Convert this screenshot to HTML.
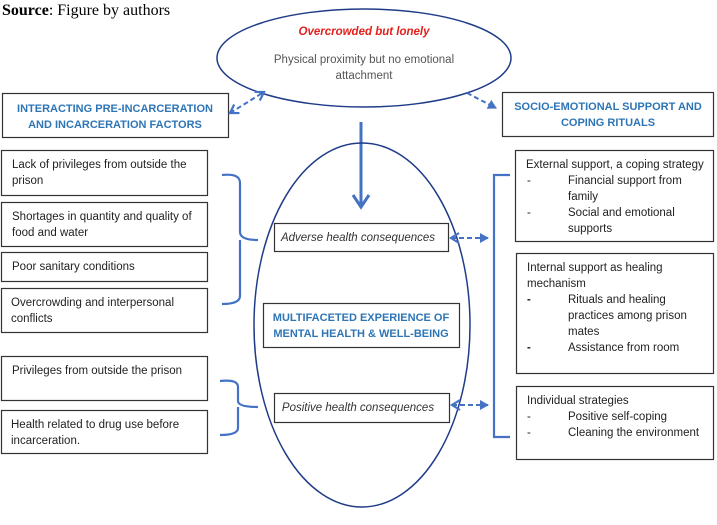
<!DOCTYPE html>
<html><head><meta charset="utf-8"><style>
html,body{margin:0;padding:0;background:#fff;}
svg{display:block;font-family:"Liberation Sans",Calibri,sans-serif;}
</style></head><body>
<svg width="717" height="525" viewBox="0 0 717 525" xmlns="http://www.w3.org/2000/svg">
<defs>
<marker id="ah" markerWidth="10" markerHeight="10" refX="8" refY="5" orient="auto" markerUnits="userSpaceOnUse"><path d="M0,0 L9,5 L0,10 z" fill="#4472C4"/></marker>
<marker id="ao" markerWidth="12" markerHeight="12" refX="9" refY="6" orient="auto" markerUnits="userSpaceOnUse"><path d="M1,1 L9,6 L1,11" fill="none" stroke="#4472C4" stroke-width="2.2"/></marker>
<marker id="aos" markerWidth="12" markerHeight="12" refX="3" refY="6" orient="auto" markerUnits="userSpaceOnUse"><path d="M11,1 L3,6 L11,11" fill="none" stroke="#4472C4" stroke-width="2.2"/></marker>
</defs>
<text x="2" y="15" font-family="Liberation Serif,serif" font-size="16"><tspan font-weight="bold">Source</tspan>: Figure by authors</text>

<ellipse cx="364" cy="58" rx="147" ry="49" fill="none" stroke="#1F3C88" stroke-width="1.5"/>
<text x="364" y="35" text-anchor="middle" font-size="11.5" font-style="italic" font-weight="bold" fill="#E0201B">Overcrowded but lonely</text>
<text x="364" y="63" text-anchor="middle" font-size="11.5" fill="#555">Physical proximity but no emotional</text>
<text x="364" y="79" text-anchor="middle" font-size="11.5" fill="#555">attachment</text>

<rect x="2.5" y="93.5" width="226" height="44" fill="none" stroke="#333" stroke-width="1.2"/>
<text x="115" y="112" text-anchor="middle" font-size="11" font-weight="bold" fill="#2E75B6">INTERACTING PRE-INCARCERATION</text>
<text x="115" y="128" text-anchor="middle" font-size="11" font-weight="bold" fill="#2E75B6">AND INCARCERATION FACTORS</text>

<rect x="502.5" y="92.5" width="211" height="44" fill="none" stroke="#333" stroke-width="1.2"/>
<text x="608" y="110" text-anchor="middle" font-size="11" font-weight="bold" fill="#2E75B6">SOCIO-EMOTIONAL SUPPORT AND</text>
<text x="608" y="126" text-anchor="middle" font-size="11" font-weight="bold" fill="#2E75B6">COPING RITUALS</text>

<line x1="230" y1="113" x2="264" y2="92" stroke="#4472C4" stroke-width="2" stroke-dasharray="5,3" marker-start="url(#aos)" marker-end="url(#ao)"/>
<line x1="467" y1="93" x2="496" y2="108" stroke="#4472C4" stroke-width="2" stroke-dasharray="5,3" marker-end="url(#ah)"/>

<line x1="361" y1="122" x2="361" y2="205" stroke="#4472C4" stroke-width="3"/>
<path d="M353,195 L361,207 L369,195" fill="none" stroke="#4472C4" stroke-width="3"/>

<ellipse cx="362" cy="325" rx="108" ry="182" fill="none" stroke="#1F3C88" stroke-width="1.5"/>
<rect x="274.5" y="223.5" width="174" height="28" fill="#fff" stroke="#333" stroke-width="1.2"/>
<text x="358" y="241" text-anchor="middle" font-size="11.5" font-style="italic" fill="#333">Adverse health consequences</text>
<rect x="263.5" y="303.5" width="196" height="44" fill="#fff" stroke="#333" stroke-width="1.2"/>
<text x="361" y="321" text-anchor="middle" font-size="11" font-weight="bold" fill="#2E75B6">MULTIFACETED EXPERIENCE OF</text>
<text x="361" y="337" text-anchor="middle" font-size="11" font-weight="bold" fill="#2E75B6">MENTAL HEALTH &amp; WELL-BEING</text>
<rect x="274.5" y="393.5" width="175" height="29" fill="#fff" stroke="#333" stroke-width="1.2"/>
<text x="358" y="411" text-anchor="middle" font-size="11.5" font-style="italic" fill="#333">Positive health consequences</text>

<line x1="451" y1="238" x2="488" y2="238" stroke="#4472C4" stroke-width="2" stroke-dasharray="5,3" marker-start="url(#aos)" marker-end="url(#ah)"/>
<line x1="452" y1="405" x2="488" y2="405" stroke="#4472C4" stroke-width="2" stroke-dasharray="5,3" marker-start="url(#aos)" marker-end="url(#ah)"/>

<g fill="none" stroke="#4472C4" stroke-width="2.2">
<path d="M222,175 Q240,173 240,183 L240,232 Q240,240 258,240 M240,240 L240,296 Q240,304 222,304"/>
<path d="M220,381 Q238,379 238,387 L238,401 Q238,407 258,407 M238,407 L238,428 Q238,435 220,435"/>
<path d="M510,175 L494,175 L494,437 L510,437"/>
</g>

<g stroke="#333" stroke-width="1.2" fill="#fff">
<rect x="1.5" y="150.5" width="206" height="45"/>
<rect x="1.5" y="202.5" width="206" height="44"/>
<rect x="1.5" y="252.5" width="206" height="29"/>
<rect x="1.5" y="288.5" width="206" height="44"/>
<rect x="1.5" y="356.5" width="206" height="44"/>
<rect x="1.5" y="410.5" width="206" height="43"/>
<rect x="515.5" y="150.5" width="198" height="91"/>
<rect x="516.5" y="253.5" width="197" height="120"/>
<rect x="516.5" y="386.5" width="197" height="73"/>
</g>
<g font-size="11.5" fill="#222">
<text x="12" y="168">Lack of privileges from outside the</text>
<text x="12" y="184">prison</text>
<text x="12" y="220">Shortages in quantity and quality of</text>
<text x="12" y="236">food and water</text>
<text x="12" y="270">Poor sanitary conditions</text>
<text x="11" y="306">Overcrowding and interpersonal</text>
<text x="11" y="322">conflicts</text>
<text x="12" y="374">Privileges from outside the prison</text>
<text x="11" y="428">Health related to drug use before</text>
<text x="11" y="444">incarceration.</text>

<text x="526" y="168">External support, a coping strategy</text>
<text x="527" y="184">-</text><text x="568" y="184">Financial support from</text>
<text x="568" y="200">family</text>
<text x="527" y="216">-</text><text x="568" y="216">Social and emotional</text>
<text x="568" y="232">supports</text>

<text x="527" y="271">Internal support as healing</text>
<text x="527" y="287">mechanism</text>
<text x="527" y="303" font-weight="bold">-</text><text x="568" y="303">Rituals and healing</text>
<text x="568" y="319">practices among prison</text>
<text x="568" y="335">mates</text>
<text x="527" y="351" font-weight="bold">-</text><text x="568" y="351">Assistance from room</text>

<text x="527" y="404">Individual strategies</text>
<text x="527" y="420">-</text><text x="568" y="420">Positive self-coping</text>
<text x="527" y="436">-</text><text x="568" y="436">Cleaning the environment</text>
</g>
</svg>
</body></html>
